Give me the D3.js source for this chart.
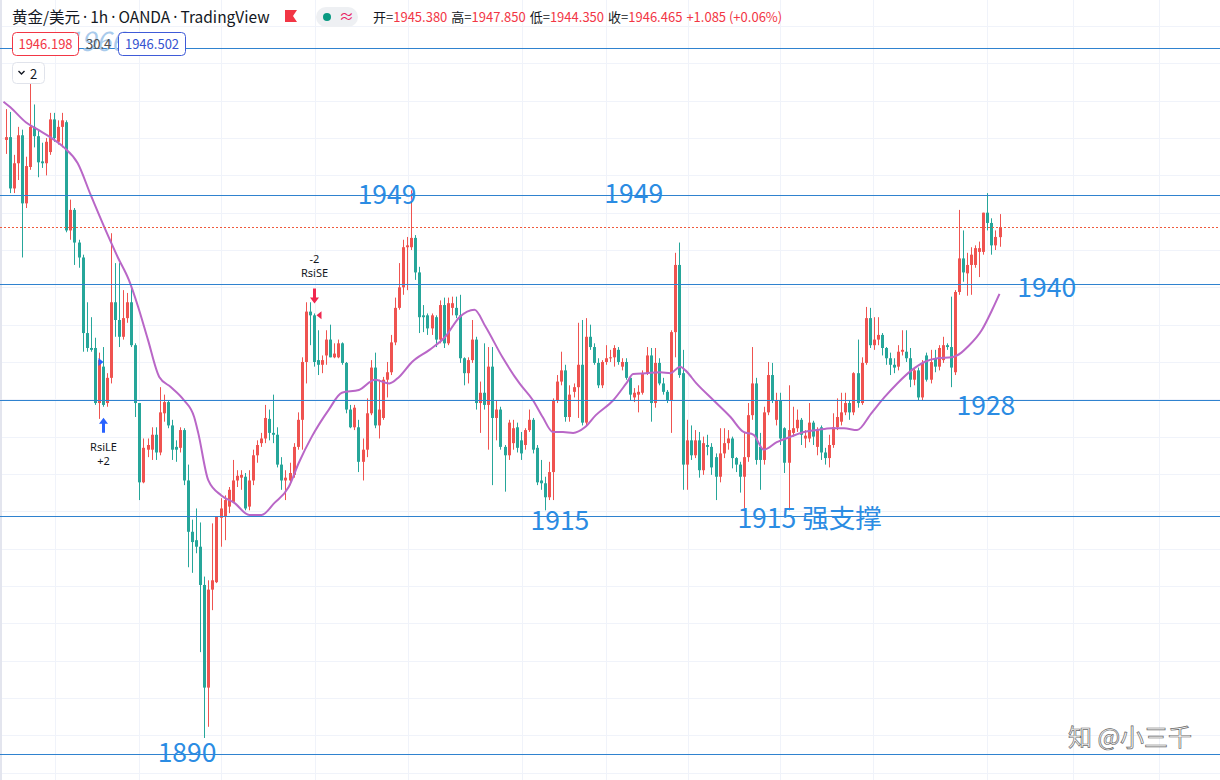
<!DOCTYPE html>
<html>
<head>
<meta charset="utf-8">
<script src="https://cdn.jsdelivr.net/npm/d3@7"></script>
<style>
  body { margin: 0; background: #fff; }
  svg { display: block; font-family: "Noto Sans CJK SC", "Noto Sans", sans-serif; }
</style>
</head>
<body>
<svg id="chart" width="1220" height="780"></svg>
<script>
// ---- data (XAUUSD 1h) ----
var opens = [
  1955.8,1956.1,1950.6,1953.3,1956.3,1949.0,1952.9,1957.2,1956.2,1953.5,
  1953.3,1954.5,1958.0,1955.6,1957.2,1957.7,1946.1,1948.3,1944.8,1943.2,
  1935.1,1933.5,1933.5,1927.6,1931.5,1927.6,1930.3,1938.4,1936.5,1934.7,
  1936.7,1938.4,1933.8,1927.6,1919.1,1922.6,1922.6,1924.2,1922.3,1926.5,
  1927.7,1925.2,1922.9,1922.8,1924.7,1919.3,1913.8,1912.9,1912.2,1908.1,
  1897.1,1907.6,1908.4,1915.3,1915.4,1916.5,1917.0,1919.3,1919.6,1919.7,
  1916.5,1919.3,1922.0,1923.3,1923.8,1925.9,1924.4,1924.2,1921.0,1919.3,
  1919.3,1919.9,1922.9,1925.8,1932.0,1937.4,1937.0,1932.2,1931.7,1932.7,
  1934.4,1932.5,1932.5,1934.0,1931.9,1926.9,1925.0,1925.0,1921.3,1922.6,
  1926.5,1931.4,1925.2,1926.0,1930.1,1930.9,1934.1,1937.8,1940.0,1944.3,
  1944.3,1945.3,1941.6,1937.0,1937.0,1935.6,1936.8,1934.4,1938.1,1934.0,
  1937.8,1937.8,1937.0,1932.4,1930.8,1932.2,1934.4,1927.6,1928.7,1927.4,
  1931.5,1926.0,1926.9,1922.9,1922.0,1923.3,1925.0,1923.6,1923.1,1924.7,
  1925.8,1922.8,1919.3,1919.0,1917.5,1920.2,1927.9,1929.9,1931.1,1926.1,
  1928.8,1929.3,1931.7,1925.5,1934.7,1933.6,1931.9,1929.5,1932.0,1932.4,
  1932.5,1933.3,1931.5,1932.0,1930.3,1928.2,1928.5,1928.7,1930.8,1932.7,
  1927.6,1931.9,1929.7,1928.8,1927.9,1935.2,1942.4,1930.8,1921.0,1923.6,
  1922.0,1923.6,1920.4,1923.1,1922.9,1921.8,1919.7,1922.2,1923.3,1923.8,
  1921.7,1921.0,1919.7,1921.8,1926.3,1929.7,1922.9,1921.5,1926.6,1930.6,
  1925.8,1927.9,1924.9,1921.2,1924.4,1924.9,1925.8,1923.8,1923.8,1925.5,
  1922.9,1925.0,1922.3,1921.7,1923.1,1925.0,1925.6,1926.6,1927.6,1926.6,
  1930.8,1927.6,1931.9,1936.7,1933.8,1934.4,1934.9,1933.5,1932.4,1931.7,
  1931.5,1933.1,1933.1,1932.4,1930.1,1931.1,1928.2,1932.7,1930.1,1932.4,
  1931.5,1932.2,1933.8,1933.6,1930.9,1939.5,1943.1,1941.5,1942.4,1942.4,
  1943.8,1943.8,1948.0,1946.9,1944.5,1945.38
];
var highs = [
  1959.1,1958.8,1954.2,1957.2,1956.9,1954.0,1962.0,1959.6,1956.9,1955.5,
  1956.0,1958.7,1958.7,1957.9,1958.7,1957.9,1949.4,1948.5,1945.1,1943.5,
  1938.4,1936.8,1934.6,1933.0,1933.6,1930.8,1945.8,1942.6,1942.6,1939.7,
  1939.4,1939.9,1934.0,1927.6,1923.8,1923.8,1925.0,1925.0,1929.3,1928.5,
  1927.9,1925.8,1923.6,1925.0,1924.9,1921.0,1915.1,1916.3,1914.8,1909.0,
  1908.6,1914.7,1915.4,1917.4,1917.7,1918.6,1921.5,1920.4,1920.4,1920.1,
  1920.4,1922.6,1923.6,1924.4,1927.4,1926.9,1928.5,1925.0,1921.8,1920.4,
  1921.2,1923.3,1926.6,1932.5,1938.4,1938.4,1937.2,1935.4,1932.7,1935.4,
  1936.0,1934.0,1934.4,1934.1,1932.0,1927.4,1927.4,1925.8,1923.8,1928.1,
  1932.2,1933.0,1930.1,1930.4,1932.0,1934.9,1938.9,1942.6,1945.1,1945.4,
  1950.4,1945.6,1942.2,1938.1,1937.2,1937.2,1937.0,1938.6,1938.9,1938.9,
  1939.0,1939.0,1939.2,1932.5,1932.5,1936.5,1934.7,1929.9,1934.0,1933.6,
  1933.6,1927.9,1927.2,1923.1,1925.8,1925.8,1925.5,1924.5,1924.9,1926.9,
  1926.0,1923.1,1921.5,1919.7,1921.3,1928.1,1930.6,1933.1,1931.7,1929.5,
  1929.7,1936.2,1936.5,1936.7,1936.0,1934.0,1932.4,1932.2,1933.8,1933.3,
  1933.8,1933.6,1932.4,1932.4,1930.4,1929.2,1929.5,1931.1,1933.6,1933.5,
  1933.5,1932.4,1930.3,1929.0,1935.4,1943.7,1944.8,1933.3,1925.8,1925.2,
  1924.7,1924.5,1924.0,1924.2,1923.3,1922.2,1924.9,1924.9,1924.7,1924.0,
  1921.8,1921.3,1924.4,1927.6,1933.6,1930.3,1924.4,1927.2,1932.0,1931.9,
  1928.7,1928.7,1925.0,1929.5,1927.2,1926.9,1926.0,1924.7,1927.6,1925.7,
  1925.0,1925.2,1922.8,1924.2,1926.5,1928.1,1928.7,1928.7,1927.9,1930.9,
  1934.4,1932.5,1937.9,1937.8,1936.8,1936.8,1935.1,1933.6,1933.0,1932.4,
  1933.8,1935.4,1935.4,1933.5,1931.4,1931.4,1932.2,1933.0,1933.3,1933.3,
  1933.8,1934.7,1934.0,1939.0,1939.7,1948.3,1946.1,1943.7,1944.3,1944.5,
  1944.9,1948.0,1950.1,1947.4,1946.1,1947.85
];
var lows = [
  1954.3,1950.1,1950.1,1951.5,1943.2,1948.5,1952.6,1955.0,1951.8,1952.8,
  1952.0,1954.2,1955.6,1955.3,1955.0,1945.9,1945.1,1942.4,1942.1,1933.1,
  1933.1,1933.1,1927.4,1925.9,1927.2,1927.2,1929.7,1934.7,1933.6,1934.4,
  1936.2,1933.6,1926.1,1917.2,1919.0,1921.8,1921.5,1921.5,1922.0,1925.6,
  1924.9,1921.5,1921.3,1922.3,1918.8,1910.0,1909.4,1911.5,1900.9,1891.7,
  1892.9,1905.4,1908.3,1912.2,1912.9,1915.8,1916.9,1918.6,1918.3,1916.1,
  1916.1,1918.8,1921.2,1922.9,1923.3,1923.6,1923.3,1920.7,1918.3,1917.2,
  1918.8,1919.6,1922.6,1922.6,1929.7,1933.8,1931.5,1930.6,1930.8,1931.7,
  1932.5,1932.4,1932.4,1931.7,1926.5,1924.9,1924.7,1920.2,1919.3,1921.8,
  1926.3,1924.9,1923.8,1925.8,1928.2,1930.6,1933.8,1937.6,1939.2,1939.7,
  1944.0,1940.8,1935.1,1935.2,1934.9,1934.9,1933.6,1934.0,1933.5,1933.8,
  1937.0,1936.7,1931.9,1929.5,1929.7,1931.9,1926.9,1924.4,1926.9,1922.6,
  1918.8,1923.6,1922.6,1918.1,1921.5,1922.6,1922.3,1921.5,1922.6,1924.5,
  1922.2,1918.8,1918.3,1916.1,1917.2,1917.2,1927.6,1929.5,1925.6,1925.6,
  1928.2,1926.0,1925.2,1925.2,1933.3,1931.7,1929.2,1929.2,1931.7,1932.0,
  1931.5,1931.7,1931.1,1930.1,1927.9,1927.7,1926.6,1928.5,1930.6,1925.6,
  1927.1,1929.5,1928.5,1927.6,1924.4,1932.5,1930.3,1918.3,1918.3,1921.5,
  1921.7,1919.6,1919.9,1922.0,1919.9,1917.2,1919.1,1921.7,1922.6,1920.6,
  1920.2,1918.0,1916.1,1921.3,1925.8,1921.0,1918.3,1921.0,1926.3,1927.6,
  1925.2,1923.1,1920.1,1916.1,1924.0,1924.5,1923.1,1922.8,1923.4,1923.1,
  1922.0,1921.5,1921.0,1920.7,1922.8,1924.7,1925.2,1926.3,1925.8,1926.3,
  1927.1,1927.4,1931.7,1933.5,1933.3,1933.8,1932.7,1931.7,1930.6,1930.8,
  1931.1,1932.7,1932.0,1929.3,1929.5,1927.9,1927.9,1929.9,1929.7,1930.9,
  1931.1,1931.9,1933.3,1929.3,1930.6,1939.2,1940.6,1939.1,1939.2,1942.1,
  1941.1,1943.5,1946.1,1943.5,1944.0,1944.35
];
var closes = [
  1956.1,1950.6,1953.3,1956.3,1949.0,1953.0,1957.2,1956.2,1953.4,1953.3,
  1955.6,1958.0,1956.0,1957.2,1957.9,1946.1,1948.3,1944.8,1943.2,1935.1,
  1933.5,1933.3,1927.6,1932.2,1927.4,1930.3,1938.4,1936.5,1934.7,1936.7,
  1938.4,1933.8,1927.6,1919.1,1922.8,1923.1,1924.2,1922.3,1926.6,1927.7,
  1925.2,1922.6,1922.6,1924.7,1919.3,1913.8,1912.7,1912.2,1908.1,1897.1,
  1907.6,1908.6,1915.4,1916.3,1917.2,1918.3,1919.3,1919.8,1919.9,1916.3,
  1919.3,1922.0,1923.1,1923.8,1926.0,1924.4,1924.2,1921.0,1919.3,1919.6,
  1920.1,1922.9,1925.8,1932.0,1937.4,1937.0,1932.0,1931.7,1932.2,1934.4,
  1932.5,1932.9,1934.0,1931.9,1926.9,1925.0,1927.1,1921.3,1922.6,1926.5,
  1931.4,1925.2,1926.9,1930.1,1930.9,1934.1,1937.8,1940.0,1944.3,1944.5,
  1945.3,1941.6,1936.8,1936.8,1935.6,1937.0,1934.4,1938.1,1934.0,1938.3,
  1938.3,1937.0,1932.4,1930.8,1932.2,1934.4,1927.6,1928.7,1927.4,1931.5,
  1926.0,1926.9,1922.9,1922.0,1925.5,1924.9,1922.8,1922.2,1924.7,1925.8,
  1922.6,1919.1,1919.0,1917.5,1920.2,1927.9,1929.9,1931.1,1926.1,1928.5,
  1929.3,1931.7,1925.5,1934.7,1933.6,1931.9,1929.5,1932.0,1932.4,1932.5,
  1933.5,1932.0,1932.0,1930.3,1928.5,1928.7,1928.8,1930.8,1932.7,1927.6,
  1931.9,1929.7,1928.8,1927.9,1935.2,1942.4,1930.6,1921.0,1923.6,1922.0,
  1923.6,1920.4,1923.3,1922.9,1920.7,1919.7,1922.2,1923.3,1923.8,1921.7,
  1921.0,1919.7,1921.8,1926.3,1929.7,1921.5,1921.5,1926.6,1930.6,1927.9,
  1927.9,1923.8,1921.2,1924.7,1924.9,1925.8,1924.2,1924.1,1925.5,1924.0,
  1924.7,1922.3,1921.7,1923.1,1925.0,1926.1,1926.6,1927.6,1926.6,1930.8,
  1927.6,1931.9,1936.7,1933.8,1934.4,1934.9,1933.5,1932.4,1931.7,1931.4,
  1933.1,1933.3,1932.4,1930.1,1931.1,1928.2,1931.9,1930.1,1932.0,1931.5,
  1933.5,1933.8,1933.6,1931.4,1939.5,1943.1,1941.6,1942.4,1943.5,1944.2,
  1944.2,1948.0,1946.9,1944.5,1945.4,1946.465
];

// moving average, read as points (bar index, price)
var maIdx = [-0.5,1.2,5,8,11,14.4,17.8,21,24.3,27.7,30.4,32.7,35.1,37.9,40.8,44,46.5,47.5,50,53.2,
  56.4,60.1,63.1,66.3,69.8,72.3,75.5,79.7,82.9,87.1,91.1,94.6,97,100.2,104.5,108.4,111.9,115.6,118.3,122.5,
  126.7,130,132.4,134.9,137.4,139.9,142.8,145.5,149.8,153,154.7,157.9,161.4,163.9,166.3,167.6,170.3,174.5,178.7,181.9,
  184.4,186.9,190.1,193.6,196.8,200,203.5,206.7,209.9,213.4,216.6,219.8,223.3,226.5,229.7,233.2,235.6,237.1,240.6,243.2,245];
var maVal = [1959.9,1959.3,1957.7,1956.9,1956.1,1955.0,1953.3,1949.9,1946.5,1943.2,1940.8,1937.9,1934.4,1930.4,1929.3,1927.9,1926.1,1924.4,1919.3,1917.7,
  1916.9,1915.6,1915.6,1916.9,1918.6,1921.2,1924.0,1926.9,1928.7,1929.0,1930.1,1929.7,1930.4,1932.0,1933.3,1934.7,1936.8,1937.6,1935.8,1932.5,
  1929.7,1927.9,1926.1,1924.5,1924.5,1924.4,1925.0,1926.3,1927.9,1929.7,1930.7,1930.8,1930.9,1930.8,1931.5,1931.1,1929.7,1927.9,1926.1,1924.5,
  1924.2,1922.6,1923.4,1924.0,1924.5,1924.7,1924.9,1924.9,1924.7,1926.5,1928.2,1929.7,1931.1,1932.0,1932.4,1932.5,1933.0,1933.6,1935.4,1937.6,1939.3];

// hand drawn horizontal levels and their notes
var levels = [1965.65, 1949.9, 1940.36, 1927.92, 1915.49, 1889.98];
var noteText = ["1949", "1949", "1940", "1928", "1915", "1915 强支撑", "1890"];
var noteBar = [86.8, 147.6, 249.4, 234.4, 129.4, 180.4, 37.5];
var notePrice = [1948.9, 1949.0, 1939.0, 1926.3, 1914.0, 1914.2, 1889.1];

// time grid (bar index of each vertical grid line)
var timeTicks = [12.1, 33, 53, 76.4, 99.1, 127.2, 148.1, 168.1, 191, 213.9, 242, 263.2, 284.2];

var legendVals = ["1945.380", "1947.850", "1944.350", "1946.465"];
var legendNames = ["开=", "高=", "低=", "收="];
var changeText = "+1.085 (+0.06%)";
var titleParts = ["黄金/美元", "1h", "OANDA", "TradingView"];

// ---- drawing ----
var W = 1220, H = 780;
var upColor = "#ef5350", downColor = "#26a69a", lineBlue = "#2f82cf", noteBlue = "#2b8ce3";

var svg = d3.select("#chart");
svg.append("rect").attr("width", W).attr("height", H).attr("fill", "#fff");

var x = d3.scaleLinear().domain([0, opens.length - 1]).range([5.5, 999.5]);
var y = d3.scaleLinear().domain([1888, 1968]).range([772.5, 26.1]);

// grid
svg.append("g")
    .call(d3.axisLeft(y).tickValues(d3.range(1888, 1969, 4)).tickSize(-W).tickFormat(""))
    .call(function (g) { g.select(".domain").remove(); })
    .selectAll("line").attr("stroke", "#f0f3fa").attr("shape-rendering", "crispEdges");
svg.append("g")
    .call(d3.axisTop(x).tickValues(timeTicks).tickSize(-H).tickFormat(""))
    .call(function (g) { g.select(".domain").remove(); })
    .selectAll("line").attr("stroke", "#f0f3fa").attr("shape-rendering", "crispEdges");

svg.append("rect").attr("x", 0).attr("y", 0).attr("width", 2).attr("height", H).attr("fill", "#e3e5ee");

// candles
var bars = d3.range(opens.length).map(function (i) {
    return { i: i, o: opens[i], h: highs[i], l: lows[i], c: closes[i] };
});
var candle = svg.append("g").selectAll("g").data(bars).enter().append("g")
    .attr("fill", function (d) { return d.c >= d.o ? upColor : downColor; })
    .attr("stroke", function (d) { return d.c >= d.o ? upColor : downColor; });
candle.append("line")
    .attr("x1", function (d) { return Math.round(x(d.i)) + 0.5; })
    .attr("x2", function (d) { return Math.round(x(d.i)) + 0.5; })
    .attr("y1", function (d) { return y(d.h); })
    .attr("y2", function (d) { return y(d.l); })
    .attr("stroke-width", 1);
candle.append("rect")
    .attr("stroke", "none")
    .attr("x", function (d) { return Math.round(x(d.i)) - 1; })
    .attr("width", 3)
    .attr("y", function (d) { return y(Math.max(d.o, d.c)); })
    .attr("height", function (d) { return Math.max(1, y(Math.min(d.o, d.c)) - y(Math.max(d.o, d.c))); });

// moving average
var ma = maIdx.map(function (v, k) { return [v, maVal[k]]; });
svg.append("path").datum(ma)
    .attr("fill", "none").attr("stroke", "#b967c7").attr("stroke-width", 2)
    .attr("d", d3.line().x(function (d) { return x(d[0]); }).y(function (d) { return y(d[1]); }).curve(d3.curveMonotoneX));

// level lines
svg.append("g").selectAll("line").data(levels).enter().append("line")
    .attr("x1", 0).attr("x2", W)
    .attr("y1", function (d) { return Math.round(y(d)) + 0.5; })
    .attr("y2", function (d) { return Math.round(y(d)) + 0.5; })
    .attr("stroke", lineBlue).attr("stroke-width", 1);

// last price dotted line
var lastClose = closes[closes.length - 1];
svg.append("line")
    .attr("x1", 0).attr("x2", W)
    .attr("y1", Math.round(y(lastClose)) + 0.5).attr("y2", Math.round(y(lastClose)) + 0.5)
    .attr("stroke", "#f05a3c").attr("stroke-dasharray", "2,2").attr("shape-rendering", "crispEdges");

// level notes
svg.append("g").selectAll("text").data(noteText).enter().append("text")
    .attr("x", function (d, k) { return x(noteBar[k]); })
    .attr("y", function (d, k) { return y(notePrice[k]); })
    .attr("font-size", 26.5).attr("fill", noteBlue)
    .text(function (d) { return d; });

// strategy markers
var le = 24, se = 76;
var g1 = svg.append("g");
var lx = Math.round(x(le)) + 0.5, ly = y(lows[le]);
g1.append("path").attr("d", "M" + lx + "," + (ly + 11) + "l-4.5,6h3v9h3v-9h3z").attr("fill", "#2962ff");
g1.append("path").attr("d", "M" + (lx - 5) + "," + (y(1932.0) - 4) + "l5,4l-5,4z").attr("fill", "#2962ff");
g1.append("text").attr("x", lx).attr("y", ly + 44).attr("text-anchor", "middle")
    .attr("font-family", "Noto Sans").attr("font-size", 11).attr("fill", "#131722").text("RsiLE");
g1.append("text").attr("x", lx).attr("y", ly + 58).attr("text-anchor", "middle")
    .attr("font-family", "Noto Sans").attr("font-size", 11).attr("fill", "#131722").text("+2");
var sx = Math.round(x(se)) + 0.5, sy = y(highs[se]);
g1.append("path").attr("d", "M" + sx + "," + (sy - 10) + "l-4.5,-6h3v-9h3v9h3z").attr("fill", "#f0274f");
g1.append("path").attr("d", "M" + (sx + 7) + "," + (y(opens[se]) - 4) + "l-5,4l5,4z").attr("fill", "#f0274f");
g1.append("text").attr("x", sx).attr("y", sy - 50).attr("text-anchor", "middle")
    .attr("font-family", "Noto Sans").attr("font-size", 11).attr("fill", "#131722").text("-2");
g1.append("text").attr("x", sx).attr("y", sy - 36).attr("text-anchor", "middle")
    .attr("font-family", "Noto Sans").attr("font-size", 11).attr("fill", "#131722").text("RsiSE");

// ---- legend / header ----
var head = svg.append("g");
var title = head.append("text").attr("x", 12).attr("y", 23).attr("font-size", 15.5).attr("fill", "#131722");
titleParts.forEach(function (t, k) {
    if (k) title.append("tspan").attr("font-family", "Noto Sans").attr("dx", 3).text("·");
    title.append("tspan").attr("dx", k ? 3 : 0).text(t);
});
head.append("path").attr("d", "M285,10h12l-4,6l4,6h-12z").attr("fill", "#f23645");
head.append("rect").attr("x", 316).attr("y", 7).attr("width", 42).attr("height", 20).attr("rx", 10).attr("fill", "#eef0f3");
head.append("circle").attr("cx", 327).attr("cy", 17).attr("r", 4).attr("fill", "#089981");
head.append("text").attr("x", 339).attr("y", 22).attr("font-size", 15).attr("fill", "#e91e63").text("≈");
var ohlc = head.append("text").attr("x", 373).attr("y", 22).attr("font-size", 13);
legendVals.forEach(function (v, k) {
    ohlc.append("tspan").attr("fill", "#131722").attr("dx", k ? 4 : 0).text(legendNames[k]);
    ohlc.append("tspan").attr("fill", "#f23645").text(v);
});
ohlc.append("tspan").attr("fill", "#f23645").attr("dx", 4).text(changeText);

// faded level note under the legend boxes
head.append("text").attr("x", 66).attr("y", 51).attr("font-size", 27).attr("font-style", "italic")
    .attr("fill", "#a9cbec").text("1966");
head.append("rect").attr("x", 12.5).attr("y", 32.5).attr("width", 66).attr("height", 23).attr("rx", 4)
    .attr("fill", "#fff").attr("stroke", "#f23645");
head.append("text").attr("x", 45.5).attr("y", 49).attr("text-anchor", "middle").attr("font-size", 13)
    .attr("fill", "#f23645").text("1946.198");
head.append("text").attr("x", 86).attr("y", 49).attr("font-size", 13).attr("fill", "#505050").text("30.4");
head.append("rect").attr("x", 118.5).attr("y", 32.5).attr("width", 67).attr("height", 23).attr("rx", 4)
    .attr("fill", "#fff").attr("stroke", "#3f5bd8");
head.append("text").attr("x", 152).attr("y", 49).attr("text-anchor", "middle").attr("font-size", 13)
    .attr("fill", "#3552d0").text("1946.502");
head.append("rect").attr("x", 12.5).attr("y", 62.5).attr("width", 32).attr("height", 21).attr("rx", 4)
    .attr("fill", "#fff").attr("stroke", "#e0e3eb");
head.append("path").attr("d", "M18.5,71l3,3l3,-3").attr("fill", "none").attr("stroke", "#131722").attr("stroke-width", 1.4);
head.append("text").attr("x", 30).attr("y", 78.5).attr("font-size", 13).attr("fill", "#131722").text("2");

// watermark
svg.append("text").attr("x", 1068).attr("y", 746).attr("font-size", 24)
    .attr("fill", "#fafafa").attr("stroke", "#6a6a6a").attr("stroke-width", 0.7)
    .text("知 @小三千");
</script>
</body>
</html>
